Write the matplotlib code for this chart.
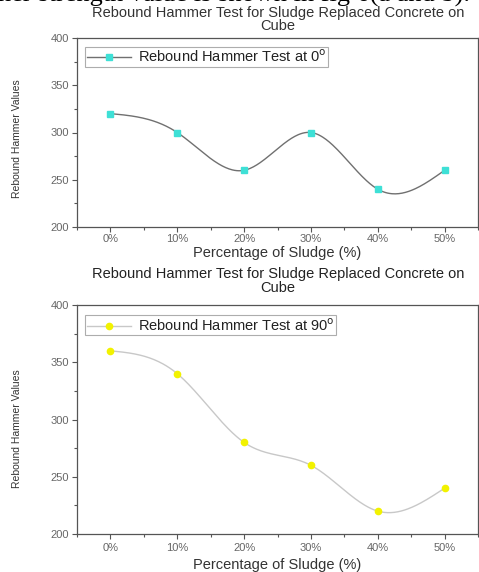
import numpy as np
import matplotlib
matplotlib.use("Agg")
import matplotlib.pyplot as plt
from matplotlib.ticker import MultipleLocator

# data
sludge_labels = ["0%", "10%", "20%", "30%", "40%", "50%"]
rebound_0deg = [320, 300, 260, 300, 240, 260]
rebound_90deg = [360, 340, 280, 260, 220, 240]

SANS = ["Liberation Sans", "DejaVu Sans"]


def natural_spline(x, y, n=300):
    # natural cubic spline through the measured points (Origin "Spline" connect)
    x = np.asarray(x, float)
    y = np.asarray(y, float)
    k = len(x)
    h = np.diff(x)
    A = np.zeros((k, k))
    b = np.zeros(k)
    A[0, 0] = A[-1, -1] = 1
    for i in range(1, k - 1):
        A[i, i - 1] = h[i - 1]
        A[i, i] = 2 * (h[i - 1] + h[i])
        A[i, i + 1] = h[i]
        b[i] = 3 * ((y[i + 1] - y[i]) / h[i] - (y[i] - y[i - 1]) / h[i - 1])
    c = np.linalg.solve(A, b)
    xs = np.linspace(x[0], x[-1], n)
    idx = np.clip(np.searchsorted(x, xs) - 1, 0, k - 2)
    dx = xs - x[idx]
    bb = (y[idx + 1] - y[idx]) / h[idx] - h[idx] * (2 * c[idx] + c[idx + 1]) / 3
    dd = (c[idx + 1] - c[idx]) / (3 * h[idx])
    ys = y[idx] + bb * dx + c[idx] * dx ** 2 + dd * dx ** 3
    return xs, ys


def draw_panel(ax, values, label, line_color, marker, marker_color, xlab_y, ylab_y, tick_pad):
    x = np.arange(len(values))
    xs, ys = natural_spline(x, values)
    ax.plot(xs, ys, color=line_color, linewidth=1.0, zorder=2)
    ax.plot(x, values, linestyle="none", marker=marker, markersize=4.5,
            markerfacecolor=marker_color, markeredgecolor=marker_color, zorder=3)
    # legend proxy with line + marker
    ax.plot([], [], color=line_color, linewidth=1.0, marker=marker, markersize=4.5,
            markerfacecolor=marker_color, markeredgecolor=marker_color, label=label)

    ax.set_xlim(-0.5, 5.5)
    ax.set_ylim(200, 400)
    ax.set_xticks(x)
    ax.set_xticklabels(sludge_labels)
    ax.xaxis.set_minor_locator(MultipleLocator(0.5))
    ax.yaxis.set_major_locator(MultipleLocator(50))
    ax.yaxis.set_minor_locator(MultipleLocator(25))
    ax.tick_params(which="both", direction="out", color="#555555", width=0.8)
    ax.tick_params(which="major", length=3.5, labelsize=8, labelcolor="#666666", pad=2.5)
    ax.tick_params(axis="x", which="major", pad=tick_pad)
    ax.tick_params(which="minor", length=2)
    for lab in ax.get_xticklabels() + ax.get_yticklabels():
        lab.set_family(SANS)
    for sp in ax.spines.values():
        sp.set_color("#555555")
        sp.set_linewidth(0.9)

    ax.set_xlabel("Percentage of Sludge (%)", fontsize=10.5, color="#333333",
                  family=SANS, va="center")
    ax.xaxis.set_label_coords(0.5, xlab_y)
    ax.set_ylabel("Rebound Hammer Values", fontsize=7.5, color="#333333",
                  family=SANS, va="center")
    ax.yaxis.set_label_coords(-0.149, ylab_y)

    leg = ax.legend(loc="upper left", bbox_to_anchor=(0.02, 0.955), fontsize=10.5,
                    frameon=True, fancybox=False, handlelength=3.0,
                    borderpad=0.12, handletextpad=0.5, borderaxespad=0)
    leg.get_frame().set_edgecolor("#999999")
    leg.get_frame().set_linewidth(0.8)
    for t in leg.get_texts():
        t.set_family(SANS)
        t.set_color("#222222")


fig = plt.figure(figsize=(4.79, 5.72), dpi=100)

# cut-off sentence from the page above the figure
fig.text(-0.004, 1 - 2 / 572, "her strength value is shown in fig 6(a and b).",
         family=["Liberation Serif", "DejaVu Serif"], fontsize=19, va="baseline",
         ha="left", color="black")

ax1 = fig.add_axes([77 / 479, 1 - 227 / 572, 401 / 479, 189 / 572])
ax2 = fig.add_axes([77 / 479, 1 - 534 / 572, 401 / 479, 229 / 572])

draw_panel(ax1, rebound_0deg, "Rebound Hammer Test at 0$^{\\mathrm{o}}$", "#707070", "s",
           "#3ee0d6", -26 / 189, 0.465, 1.5)
draw_panel(ax2, rebound_90deg, "Rebound Hammer Test at 90$^{\\mathrm{o}}$", "#c8c8c8", "o",
           "#f2f200", -31 / 229, 0.46, 3)

title = "Rebound Hammer Test for Sludge Replaced Concrete on\nCube"
fig.text(278 / 479, 1 - 19.5 / 572, title, ha="center", va="center", fontsize=10.5,
         family=SANS, color="#333333", linespacing=0.95)
fig.text(278 / 479, 1 - 281 / 572, title, ha="center", va="center", fontsize=10.5,
         family=SANS, color="#222222", linespacing=0.95)

fig.savefig("out.png", dpi=100)
plt.close(fig)
